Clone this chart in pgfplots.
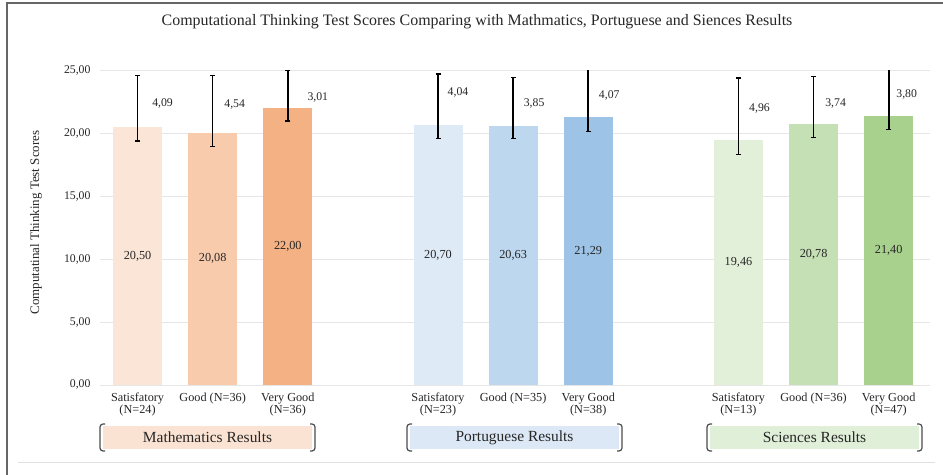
\documentclass[border=0pt]{standalone}
\usepackage{pgfplots}
\pgfplotsset{compat=1.18}
\usepackage{fontspec}
\setmainfont{Liberation Serif}
\definecolor{mA}{HTML}{FBE5D6}
\definecolor{mB}{HTML}{F8CBAD}
\definecolor{mC}{HTML}{F4B183}
\definecolor{pA}{HTML}{DEEBF7}
\definecolor{pB}{HTML}{BDD7EE}
\definecolor{pC}{HTML}{9DC3E6}
\definecolor{sA}{HTML}{E2F0D9}
\definecolor{sB}{HTML}{C5E0B4}
\definecolor{sC}{HTML}{A9D18E}
\definecolor{mBox}{HTML}{FBE3D3}
\definecolor{pBox}{HTML}{DCE8F5}
\definecolor{sBox}{HTML}{E0EFD8}
\definecolor{gridc}{HTML}{E6E6E6}
\definecolor{txt}{HTML}{262626}
\pgfplotsset{
  eb/.style={draw=none, fill=#1,
    error bars/.cd, y dir=both, y explicit,
    error bar style={black, line width=1.6bp},
    error mark=-,
    error mark options={black, line width=1.2bp, mark size=2.5bp, rotate=90}}
}
\begin{document}
\begin{tikzpicture}[x=1bp,y=1bp]
\path[use as bounding box] (0,0) rectangle (943,475);
\fill[white] (0,0) rectangle (943,475);
\draw[black!60, line width=1.5bp] (7,0) -- (7,472) -- (943,472);
\node[font=\fontsize{16}{19}\selectfont, text=txt] at (477,453) {Computational Thinking Test Scores Comparing with Mathmatics, Portuguese and Siences Results};
\node[font=\fontsize{13}{15}\selectfont, text=txt, rotate=90] at (36,252.5) {Computatinal Thinking Test Scores};
\begin{axis}[
  at={(100bp,90bp)}, anchor=south west,
  scale only axis, width=830bp, height=314.3bp,
  xmin=-0.5, xmax=10.55, ymin=0, ymax=25,
  axis line style={draw=none}, major tick length=0pt,
  ytick={0,5,10,15,20,25},
  ymajorgrids, grid style={color=gridc, line width=0.8bp},
  xtick={0,1,2,4,5,6,8,9,10},
  xticklabels={{Satisfatory\\(N=24)},{Good (N=36)},{Very Good\\(N=36)},
               {Satisfatory\\(N=23)},{Good (N=35)},{Very Good\\(N=38)},
               {Satisfatory\\(N=13)},{Good (N=36)},{Very Good\\(N=47)}},
  xticklabel style={align=center, font=\fontsize{12.3}{12.8}\selectfont, text=txt, yshift=-4bp},
  yticklabel style={font=\fontsize{11.8}{13}\selectfont, text=txt, xshift=-6bp},
  yticklabel={\pgfmathprintnumber[fixed, fixed zerofill, precision=2, use comma]{\tick}},
  /pgf/number format/assume math mode=true,
  ybar, bar width=49bp, bar shift=0pt,
]
\addplot[eb=mA] coordinates {(0,20.50) += (0,4.09) -= (0,1.1)};
\addplot[eb=mB] coordinates {(1,20.08) += (0,4.54) -= (0,1.1)};
\addplot[eb=mC] coordinates {(2,22.00) += (0,3.01) -= (0,1.0)};
\addplot[eb=pA] coordinates {(4,20.70) += (0,4.04) -= (0,1.1)};
\addplot[eb=pB] coordinates {(5,20.63) += (0,3.85) -= (0,1.0)};
\addplot[eb=pC] coordinates {(6,21.29) += (0,4.07) -= (0,1.1)};
\addplot[eb=sA] coordinates {(8,19.46) += (0,4.96) -= (0,1.1)};
\addplot[eb=sB] coordinates {(9,20.78) += (0,3.74) -= (0,1.1)};
\addplot[eb=sC] coordinates {(10,21.40) += (0,3.80) -= (0,1.1)};
\begin{scope}[every node/.style={font=\fontsize{12.3}{14}\selectfont, text=txt}]
\node at (axis cs:0,10.25) {20,50};
\node at (axis cs:1,10.04) {20,08};
\node at (axis cs:2,11.00) {22,00};
\node at (axis cs:4,10.35) {20,70};
\node at (axis cs:5,10.32) {20,63};
\node at (axis cs:6,10.65) {21,29};
\node at (axis cs:8,9.73) {19,46};
\node at (axis cs:9,10.39) {20,78};
\node at (axis cs:10,10.70) {21,40};
\end{scope}
\begin{scope}[every node/.style={font=\fontsize{11.8}{13}\selectfont, text=txt}]
\node[xshift=25bp] at (axis cs:0,22.4) {4,09};
\node[xshift=22bp] at (axis cs:1,22.3) {4,54};
\node[xshift=30bp] at (axis cs:2,22.85) {3,01};
\node[xshift=20bp] at (axis cs:4,23.25) {4,04};
\node[xshift=21bp] at (axis cs:5,22.4) {3,85};
\node[xshift=21bp] at (axis cs:6,23.0) {4,07};
\node[xshift=21bp] at (axis cs:8,22.0) {4,96};
\node[xshift=22bp] at (axis cs:9,22.4) {3,74};
\node[xshift=18bp] at (axis cs:10,23.1) {3,80};
\end{scope}
\end{axis}
% group labels
\foreach \xa/\xb/\col/\lab in {100/315/mBox/Mathematics Results, 407/622/pBox/Portuguese Results, 707/922/sBox/Sciences Results}{
  \fill[\col] (\xa+3,26) rectangle (\xb-3,49);
  \draw[black!70, line width=1.2bp, rounded corners=3bp] (\xa+5,51) -- (\xa,51) -- (\xa,24) -- (\xa+5,24);
  \draw[black!70, line width=1.2bp, rounded corners=3bp] (\xb-5,51) -- (\xb,51) -- (\xb,24) -- (\xb-5,24);
  \node[font=\fontsize{15.5}{17}\selectfont, text=txt] at ({(\xa+\xb)/2},37.5) {\lab};
}
\draw[black!12, line width=1bp] (18,12) -- (935,12);
\end{tikzpicture}
\end{document}
